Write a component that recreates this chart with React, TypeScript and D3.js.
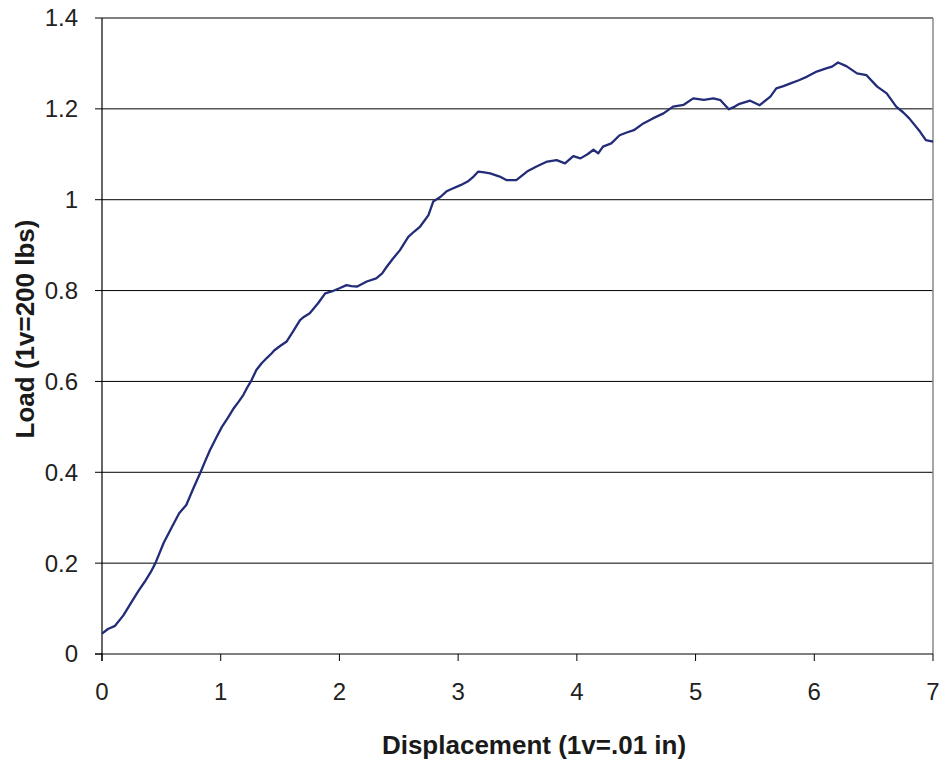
import React from "react";
import * as d3 from "d3";

const disp = [0, 0.05, 0.11, 0.18, 0.26, 0.31, 0.36, 0.41, 0.45, 0.52, 0.59, 0.65, 0.71, 0.77, 0.83, 0.87, 0.91, 0.96, 1.01, 1.06, 1.11, 1.15, 1.19, 1.22, 1.26, 1.3, 1.345, 1.39, 1.43, 1.45, 1.5, 1.556, 1.61, 1.668, 1.7, 1.75, 1.82, 1.88, 1.935, 2.0, 2.06, 2.1, 2.15, 2.23, 2.31, 2.36, 2.4, 2.45, 2.51, 2.58, 2.63, 2.68, 2.75, 2.79, 2.85, 2.9, 2.93, 3.02, 3.08, 3.13, 3.17, 3.22, 3.27, 3.35, 3.41, 3.49, 3.58, 3.66, 3.75, 3.83, 3.9, 3.97, 4.03, 4.09, 4.14, 4.18, 4.22, 4.29, 4.36, 4.42, 4.48, 4.56, 4.64, 4.73, 4.81, 4.9, 4.98, 5.07, 5.15, 5.21, 5.28, 5.33, 5.37, 5.46, 5.54, 5.63, 5.68, 5.74, 5.8, 5.87, 5.94, 6.02, 6.1, 6.15, 6.2, 6.27, 6.36, 6.44, 6.53, 6.61, 6.69, 6.75, 6.8, 6.89, 6.94, 7.0];
const load = [0.045, 0.055, 0.062, 0.085, 0.119, 0.14, 0.159, 0.18, 0.2, 0.245, 0.28, 0.31, 0.328, 0.365, 0.4, 0.425, 0.449, 0.475, 0.5, 0.52, 0.541, 0.555, 0.57, 0.585, 0.603, 0.625, 0.64, 0.652, 0.662, 0.668, 0.678, 0.688, 0.71, 0.735, 0.742, 0.75, 0.772, 0.794, 0.798, 0.805, 0.812, 0.81, 0.809, 0.82, 0.827, 0.838, 0.853, 0.87, 0.889, 0.918, 0.93, 0.941, 0.966, 0.996, 1.006, 1.018, 1.022, 1.032, 1.04, 1.051, 1.062, 1.06, 1.058, 1.051, 1.043, 1.043, 1.062, 1.073, 1.084, 1.087, 1.08, 1.096, 1.091, 1.1, 1.11, 1.102, 1.117, 1.124, 1.142, 1.148, 1.153, 1.168, 1.179, 1.19, 1.205, 1.209, 1.223, 1.22, 1.223, 1.219, 1.199, 1.205, 1.211, 1.218, 1.208, 1.227, 1.245, 1.25, 1.256, 1.263, 1.271, 1.282, 1.289, 1.293, 1.302, 1.294, 1.278, 1.274, 1.249, 1.234, 1.205, 1.192, 1.179, 1.15, 1.131, 1.128];

const xTicks = [0, 1, 2, 3, 4, 5, 6, 7];
const yTicks = [0, 0.2, 0.4, 0.6, 0.8, 1, 1.2, 1.4];

export default function App() {
  const W = 945, H = 767;
  const left = 102, right = 933, top = 18, bottom = 654;
  const x = d3.scaleLinear().domain([0, 7]).range([left, right]);
  const y = d3.scaleLinear().domain([0, 1.4]).range([bottom, top]);
  const pts = disp.map((d, i) => [d, load[i]] as [number, number]);
  const line = d3.line<[number, number]>().x(d => x(d[0])).y(d => y(d[1]));
  const font = "'Liberation Sans', Arial, sans-serif";
  return (
    <svg width={W} height={H} style={{ position: "absolute", left: 0, top: 0, background: "#fff" }}>
      {yTicks.map(t => (
        <g key={"y" + t}>
          <line x1={left - 7} x2={t === 0 ? left : right} y1={y(t)} y2={y(t)} stroke="#000" strokeWidth={1} />
          <text x={78} y={y(t)} dy="0.35em" textAnchor="end" fontFamily={font} fontSize={24} fill="#222">{String(t)}</text>
        </g>
      ))}
      <line x1={right} x2={right} y1={top} y2={bottom} stroke="#888" strokeWidth={1.5} />
      <line x1={left} x2={left} y1={top} y2={bottom + 7} stroke="#000" strokeWidth={1.2} />
      <line x1={left - 7} x2={right} y1={bottom} y2={bottom} stroke="#000" strokeWidth={1.2} />
      {xTicks.map(t => (
        <g key={"x" + t}>
          <line x1={x(t)} x2={x(t)} y1={bottom} y2={bottom + 7} stroke="#000" strokeWidth={1} />
          <text x={x(t)} y={692} dy="0.35em" textAnchor="middle" fontFamily={font} fontSize={24} fill="#222">{String(t)}</text>
        </g>
      ))}
      <path d={line(pts) || ""} fill="none" stroke="#232c78" strokeWidth={2.3} strokeLinejoin="round" />
      <text x={534} y={745} dy="0.35em" textAnchor="middle" fontFamily={font} fontSize={26} fontWeight="bold" fill="#1a1a1a">Displacement (1v=.01 in)</text>
      <text transform={`translate(25,329) rotate(-90)`} dy="0.35em" textAnchor="middle" fontFamily={font} fontSize={26} fontWeight="bold" fill="#1a1a1a">Load (1v=200 lbs)</text>
    </svg>
  );
}
